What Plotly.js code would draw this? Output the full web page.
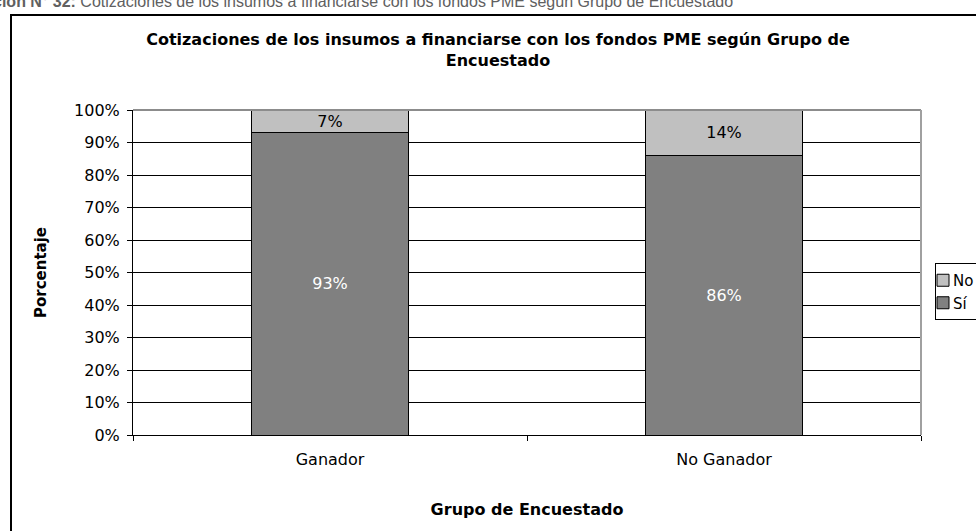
<!DOCTYPE html>
<html>
<head>
<meta charset="utf-8">
<script src="https://cdn.plot.ly/plotly-3.0.1.min.js"></script>
<style>html,body{margin:0;padding:0;background:#fff;}#chart{width:976px;height:531px;}</style>
</head>
<body>
<div id="chart"></div>
<script>
const categories = ["Ganador", "No Ganador"];
const siValues = [93, 86];
const noValues = [7, 14];
const seriesNames = ["Sí", "No"];
const yTickVals = [0, 10, 20, 30, 40, 50, 60, 70, 80, 90, 100];
const yTickText = yTickVals.map(v => v + "%");

const font = "DejaVu Sans, Verdana, sans-serif";

const traces = [
  {
    type: "bar", name: seriesNames[0], x: categories, y: siValues,
    text: siValues.map(v => v + "%"), textposition: "inside", insidetextanchor: "middle",
    constraintext: "none",
    textfont: {family: font, size: 16, color: "#ffffff"},
    marker: {color: "#808080", line: {color: "#000000", width: 1}},
    width: 0.4, hoverinfo: "none"
  },
  {
    type: "bar", name: seriesNames[1], x: categories, y: noValues,
    text: noValues.map(v => v + "%"), textposition: "inside", insidetextanchor: "middle",
    constraintext: "none",
    textfont: {family: font, size: 16, color: "#000000"},
    marker: {color: "#c0c0c0", line: {color: "#000000", width: 1}},
    width: 0.4, hoverinfo: "none"
  }
];

const L = 133, R = 921, T = 110, B = 435, W = 976, H = 531;
const px = x => (x - L) / (R - L);
const py = y => (B - y) / (B - T);

const layout = {
  width: W, height: H,
  margin: {l: L, r: W - R, t: T, b: H - B},
  paper_bgcolor: "#ffffff", plot_bgcolor: "#ffffff",
  barmode: "stack",
  bargap: 0.6,
  showlegend: true,
  font: {family: font, size: 16, color: "#000000"},
  title: {
    text: "<b>Cotizaciones de los insumos a financiarse con los fondos PME según Grupo de<br>Encuestado</b>",
    font: {family: font, size: 16, color: "#000000"},
    x: 498 / W, xanchor: "center", xref: "container",
    y: 1 - 45 / H, yanchor: "top", yref: "container"
  },
  xaxis: {
    type: "category",
    tickson: "boundaries",
    ticks: "outside", ticklen: 5, tickcolor: "#000000", tickwidth: 1,
    ticklabelstandoff: 10,
    showline: true, linecolor: "#000000", linewidth: 1,
    showgrid: false, zeroline: false,
    tickfont: {family: font, size: 16, color: "#000000"},
    title: {text: "<b>Grupo de Encuestado</b>", font: {family: font, size: 16, color: "#000000"}, standoff: 35}
  },
  yaxis: {
    range: [0, 100],
    tickvals: yTickVals, ticktext: yTickText,
    ticks: "outside", ticklen: 5, tickcolor: "#000000", tickwidth: 1,
    ticklabelstandoff: 4,
    showline: true, linecolor: "#000000", linewidth: 1,
    showgrid: true, gridcolor: "#000000", gridwidth: 1,
    zeroline: false,
    tickfont: {family: font, size: 16, color: "#000000"},
    title: {text: "<b>Porcentaje</b>", font: {family: font, size: 15, color: "#000000"}, standoff: 23}
  },
  legend: {
    xref: "container", yref: "container",
    x: 935 / W, y: 1 - 263 / H, xanchor: "left", yanchor: "top",
    bordercolor: "#000000", borderwidth: 1, bgcolor: "#ffffff",
    font: {family: font, size: 15, color: "#000000"},
    traceorder: "reversed", itemwidth: 30, tracegroupgap: 0
  },
  shapes: [
    {type: "line", xref: "paper", yref: "paper", x0: 0, x1: 1, y0: 1, y1: 1, line: {color: "#8c8c8c", width: 2}},
    {type: "line", xref: "paper", yref: "paper", x0: 1, x1: 1, y0: 0, y1: 1, line: {color: "#a0a0a0", width: 2}},
    {type: "rect", xref: "paper", yref: "paper", x0: px(11), x1: px(1000), y0: py(15), y1: py(560), line: {color: "#000000", width: 2}, fillcolor: "rgba(0,0,0,0)", layer: "below"}
  ],
  annotations: [
    {
      xref: "paper", yref: "paper", x: px(-57), y: py(1), xanchor: "left", yanchor: "middle",
      text: "<b>Ilustración N° 32:</b> Cotizaciones de los insumos a financiarse con los fondos PME según Grupo de Encuestado",
      showarrow: false, font: {family: "Liberation Sans, Arial, sans-serif", size: 16, color: "#606060"}
    }
  ]
};

Plotly.newPlot("chart", traces, layout, {displayModeBar: false, staticPlot: true}).then(gd => {
  // tighten legend entries toward the box's left edge (Excel-like compact legend)
  gd.querySelectorAll(".legend .traces").forEach(g => {
    const t = g.getAttribute("transform") || "";
    const m = t.match(/translate\(\s*([-\d.]+)[ ,]+([-\d.]+)\s*\)/);
    if (m) g.setAttribute("transform", "translate(" + (parseFloat(m[1]) - 13) + "," + m[2] + ")");
  });
  gd.querySelectorAll(".legend .legendtext").forEach(t => {
    t.setAttribute("x", 30);
  });
});
</script>
</body>
</html>
